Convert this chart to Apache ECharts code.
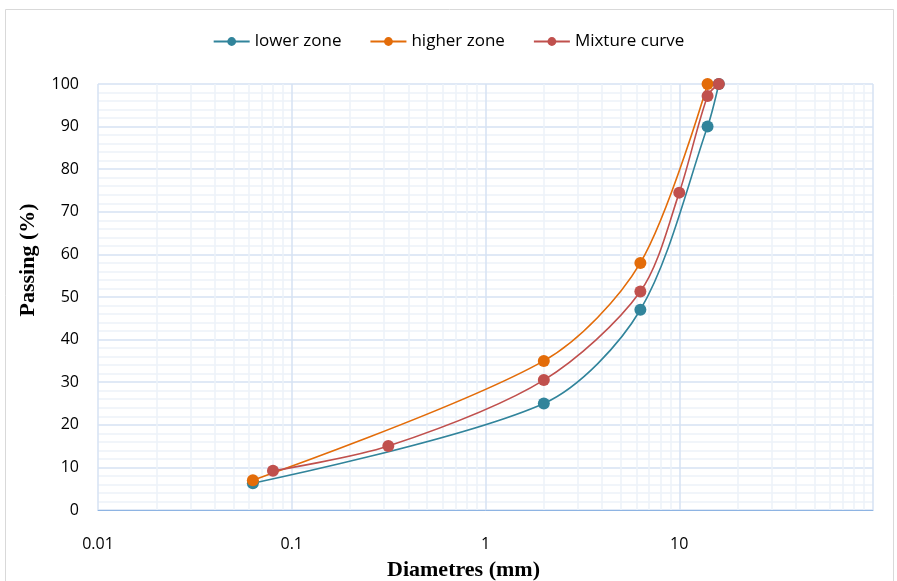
<!DOCTYPE html>
<html>
<head>
<meta charset="utf-8">
<script src="https://cdn.jsdelivr.net/npm/echarts@6/dist/echarts.min.js"></script>
<style>
html, body { margin: 0; padding: 0; background: #fff; }
#chart { width: 897px; height: 581px; }
</style>
</head>
<body>
<div id="chart"></div>
<script>
// sieve sizes (mm) and passing (%)
var lowerX = [0.063, 2, 6.3, 14, 16];
var lowerY = [6.3, 25, 47, 90, 100];
var higherX = [0.063, 2, 6.3, 14];
var higherY = [7, 35, 58, 100];
var mixX = [0.08, 0.315, 2, 6.3, 10, 14, 16];
var mixY = [9.2, 15, 30.5, 51.3, 74.5, 97.2, 100];
var xTickLabels = ['0.01', '0.1', '1', '10'];
// minor vertical grid values inside each decade
var minorX = [];
[0.01, 0.1, 1, 10].forEach(function (d) {
    for (var k = 2; k <= 9; k++) minorX.push(+(d * k).toPrecision(3));
});

function pairs(xs, ys) {
    var out = [];
    for (var i = 0; i < xs.length; i++) out.push([xs[i], ys[i]]);
    return out;
}

var chart = echarts.init(document.getElementById('chart'));

var lineSeries = function (name, color, xs, ys) {
    return {
        name: name,
        type: 'line',
        data: pairs(xs, ys),
        smooth: 0.3,
        symbol: 'circle',
        symbolSize: 12,
        color: color,
        lineStyle: { width: 1.6, color: color },
        itemStyle: { color: color },
        zlevel: 1,
        z: 3
    };
};

var option = {
    animation: false,
    backgroundColor: '#fff',
    graphic: [{
        type: 'rect',
        shape: { x: 5.5, y: 9.5, width: 888, height: 580 },
        style: { fill: 'none', stroke: '#d9d9d9', lineWidth: 1 },
        silent: true
    }],
    legend: {
        top: 28,
        left: 'center',
        itemWidth: 36,
        itemHeight: 11,
        itemGap: 28,
        textStyle: { fontFamily: 'Open Sans', fontSize: 17, color: '#000' },
        data: ['lower zone', 'higher zone', 'Mixture curve']
    },
    grid: { left: 98, right: 24, top: 84, bottom: 71, containLabel: false, outerBoundsMode: 'none' },
    xAxis: {
        type: 'log',
        logBase: 10,
        min: 0.01,
        max: 100,
        name: 'Diametres (mm)',
        nameLocation: 'middle',
        nameGap: 49,
        nameTextStyle: { fontFamily: 'Liberation Serif', fontWeight: 'bold', fontSize: 22, color: '#000', padding: [0, 44, 0, 0] },
        axisLine: { show: true, lineStyle: { color: '#8eb4e3', width: 1 } },
        axisTick: { show: false },
        axisLabel: {
            margin: 26,
            fontFamily: 'Open Sans',
            fontSize: 16,
            color: '#000',
            showMaxLabel: false,
            formatter: function (v) {
                var s = String(+v.toPrecision(3));
                return xTickLabels.indexOf(s) >= 0 ? s : '';
            }
        },
        splitLine: { show: true, lineStyle: { color: '#d6e2f3', width: 1.5 } }
    },
    yAxis: {
        type: 'value',
        min: 0,
        max: 100,
        interval: 10,
        name: 'Passing (%)',
        nameLocation: 'middle',
        nameGap: 59,
        nameTextStyle: { fontFamily: 'Liberation Serif', fontWeight: 'bold', fontSize: 22, color: '#000', padding: [0, 0, 0, 74] },
        axisLine: { show: false },
        axisTick: { show: false },
        axisLabel: { margin: 19, fontFamily: 'Open Sans', fontSize: 16, color: '#000' },
        splitLine: { show: true, lineStyle: { color: '#d6e2f3', width: 1.5 } },
        minorTick: { show: false, splitNumber: 5 },
        minorSplitLine: { show: true, lineStyle: { color: '#edf2f9', width: 1.5 } }
    },
    series: [
        {
            name: 'grid',
            type: 'line',
            data: [],
            silent: true,
            markLine: {
                silent: true,
                symbol: 'none',
                label: { show: false },
                lineStyle: { color: '#edf2f9', width: 1.5, type: 'solid' },
                data: minorX.map(function (v) { return { xAxis: v }; })
            },
            z: 0
        },
        lineSeries('lower zone', '#31849b', lowerX, lowerY),
        lineSeries('higher zone', '#e36c09', higherX, higherY),
        lineSeries('Mixture curve', '#c0504d', mixX, mixY)
    ]
};

chart.setOption(option);
</script>
</body>
</html>
